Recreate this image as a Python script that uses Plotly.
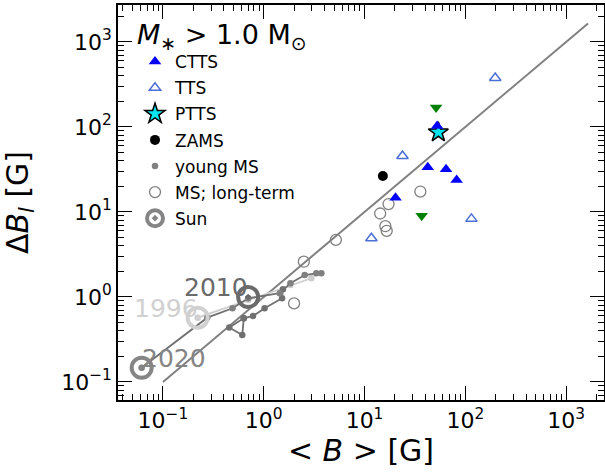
import math
import plotly.graph_objects as go

# ---- data ----
ctts_x = [52.5, 42.4, 64.4, 82.0, 20.3]
ctts_y = [103.0, 33.6, 31.8, 23.8, 14.7]

tts_x = [198.0, 23.8, 115.0, 11.7]
tts_y = [377.0, 45.6, 8.3, 4.9]

ptts_x = [54.0]
ptts_y = [86.6]

green_x = [51.3, 36.9]
green_y = [169.0, 9.0]

zams_x = [15.2]
zams_y = [26.5]

ms_x = [35.8, 17.3, 14.3, 16.1, 16.6, 5.2, 2.5, 2.0]
ms_y = [17.4, 12.4, 9.6, 6.8, 6.0, 4.7, 2.6, 0.84]

young1_x = [0.0615, 0.275, 0.49, 0.70, 1.44, 1.84, 2.55, 3.32, 3.73]
young1_y = [0.147, 0.571, 0.736, 0.965, 1.11, 1.45, 1.81, 1.90, 1.90]

young2_x = [0.634, 0.455, 0.612, 0.634, 0.784, 1.02, 1.52, 1.55]
young2_y = [0.561, 0.438, 0.357, 0.561, 0.598, 0.736, 0.965, 1.23]

young3_x = [0.221, 0.70, 1.84, 2.97]
young3_y = [0.571, 0.922, 1.38, 1.66]

sun_years = ["2020", "1996", "2010"]
sun_x = [0.0615, 0.221, 0.70]
sun_y = [0.147, 0.571, 1.0]
sun_colors = ["#858585", "#d0d0d0", "#6a6a6a"]

fit_x = [0.1, 1650.0]
fit_y = [0.1, 1650.0]

tick_vals = [0.1, 1, 10, 100, 1000]
tick_text = ["10<sup>−1</sup>", "10<sup>0</sup>", "10<sup>1</sup>", "10<sup>2</sup>", "10<sup>3</sup>"]

FONT = "DejaVu Sans"

fig = go.Figure()

fig.add_trace(go.Scatter(x=fit_x, y=fit_y, mode="lines",
                         line=dict(color="#808080", width=2), showlegend=False, hoverinfo="skip"))

fig.add_trace(go.Scatter(x=young3_x, y=young3_y, mode="lines+markers",
                         line=dict(color="#cdcdcd", width=1.8),
                         marker=dict(color="#cdcdcd", size=6.5), showlegend=False))
fig.add_trace(go.Scatter(x=young1_x, y=young1_y, mode="lines",
                         line=dict(color="#707070", width=1.8), showlegend=False))
fig.add_trace(go.Scatter(x=young2_x, y=young2_y, mode="lines+markers",
                         line=dict(color="#707070", width=1.8),
                         marker=dict(color="#707070", size=6.5), showlegend=False))
fig.add_trace(go.Scatter(x=young1_x, y=young1_y, mode="markers", name="young MS",
                         legendgroup="g5",
                         marker=dict(color="#808080", size=6.5), legendrank=5))

fig.add_trace(go.Scatter(x=ms_x, y=ms_y, mode="markers", name="MS; long-term",
                         legendgroup="g6",
                         marker=dict(symbol="circle-open", color="#808080", size=11,
                                     line=dict(width=1.3)), legendrank=6))

fig.add_trace(go.Scatter(x=zams_x, y=zams_y, mode="markers", name="ZAMS",
                         legendgroup="g4",
                         marker=dict(symbol="circle", color="black", size=10), legendrank=4))

fig.add_trace(go.Scatter(x=green_x, y=green_y, mode="markers", showlegend=False,
                         marker=dict(symbol="triangle-down", color="green", size=11)))

fig.add_trace(go.Scatter(x=tts_x, y=tts_y, mode="markers", name="TTS",
                         legendgroup="g2",
                         marker=dict(symbol="triangle-up-open", color="#4a6fd6", size=10,
                                     line=dict(width=1.5)), legendrank=2))

fig.add_trace(go.Scatter(x=ptts_x, y=ptts_y, mode="markers", name="PTTS",
                         legendgroup="g3",
                         marker=dict(symbol="star", color="#00e5ee", size=15,
                                     line=dict(color="black", width=1.5)), legendrank=3))

fig.add_trace(go.Scatter(x=ctts_x, y=ctts_y, mode="markers", name="CTTS",
                         legendgroup="g1",
                         marker=dict(symbol="triangle-up", color="#0000ff", size=11), legendrank=1))

fig.add_trace(go.Scatter(x=sun_x, y=sun_y, mode="markers", name="Sun",
                         legendgroup="g7",
                         marker=dict(symbol="circle-open-dot", color=sun_colors, size=20,
                                     line=dict(width=4, color=sun_colors)), legendrank=7))

anchors = {"2020": ("left", -2), "1996": ("right", 2), "2010": ("right", 2)}
for yr, sx, sy, c in zip(sun_years, sun_x, sun_y, sun_colors):
    xa, xs = anchors[yr]
    fig.add_annotation(x=math.log10(sx), y=math.log10(sy), xref="x", yref="y", text=yr,
                       showarrow=False, xanchor=xa, yanchor="bottom",
                       font=dict(family=FONT, size=25, color=c), xshift=xs, yshift=-7)

axis_common = dict(type="log", showgrid=False, zeroline=False, showline=True,
                   linecolor="black", linewidth=1.5, mirror="allticks",
                   ticks="inside", ticklen=14, tickwidth=1.3, tickcolor="black",
                   tickvals=tick_vals, ticktext=tick_text, automargin=False,
                   tickfont=dict(family=FONT, size=22, color="black"),
                   minor=dict(ticks="inside", ticklen=6, tickwidth=1, tickcolor="black",
                              dtick="D1", showgrid=False))

fig.update_xaxes(**axis_common, range=[-1.446, 3.376],
                 title=dict(text="&lt; <i>B</i> &gt; [G]", font=dict(family=FONT, size=30, color="black"),
                            standoff=0))
fig.update_yaxes(**axis_common, range=[-1.212, 3.435],
                 title=dict(text="Δ<i>B</i><sub><i>l</i></sub> [G]", font=dict(family=FONT, size=30, color="black"),
                            standoff=25))

fig.update_layout(
    width=605, height=474,
    margin=dict(l=118, r=1, t=5, b=74),
    paper_bgcolor="white", plot_bgcolor="white",
    font=dict(family=FONT, color="black"),
    legend=dict(x=0.035, y=0.99, xanchor="left", yanchor="top",
                bgcolor="rgba(255,255,255,0)", borderwidth=0,
                font=dict(family=FONT, size=17, color="black"),
                title=dict(text="<i>M</i><sub>∗</sub> > 1.0 M<sub>⊙</sub>",
                           font=dict(family=FONT, size=27, color="black")),
                tracegroupgap=1, itemwidth=30),
    showlegend=True,
)

fig.write_html("out.html", config={"displayModeBar": False},
               post_script="document.body.style.margin='0';document.body.style.padding='0';")
